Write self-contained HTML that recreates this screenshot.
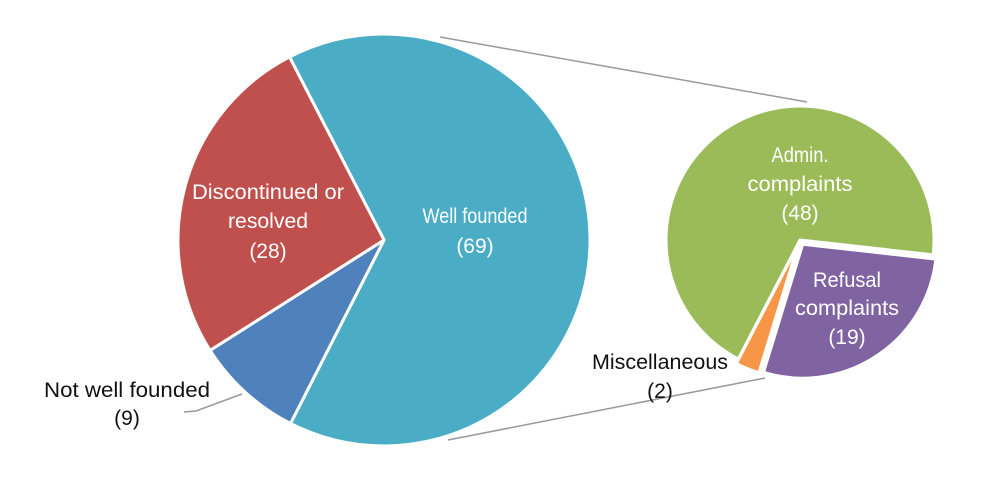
<!DOCTYPE html>
<html><head><meta charset="utf-8"><style>
html,body{margin:0;padding:0;background:#fff;}
svg{display:block;}
text{font-family:"Liberation Sans",sans-serif;font-size:21px;text-anchor:middle;}
.w{fill:#fff;}
.k{fill:#111;}
</style></head><body>
<svg width="1000" height="499" viewBox="0 0 1000 499">
<line x1="440" y1="37" x2="807" y2="102" stroke="#999" stroke-width="1.5"/>
<line x1="448" y1="440" x2="765" y2="378" stroke="#999" stroke-width="1.5"/>
<polyline points="184,412 196,411 242,394" fill="none" stroke="#999" stroke-width="1.5"/>
<g stroke="#fff" stroke-width="3" stroke-linejoin="round">
<path d="M384,240 L289.5,56.9 A206,206 0 1 1 290.5,423.5 Z" fill="#4BACC6"/>
<path d="M384,240 L290.5,423.5 A206,206 0 0 1 210.1,350.4 Z" fill="#4F81BD"/>
<path d="M384,240 L210.1,350.4 A206,206 0 0 1 289.5,56.9 Z" fill="#C0504D"/>
<path d="M800,240 L738.3,359 A134,134 0 1 1 933.2,254.9 Z" fill="#9BBB59"/>
<path d="M802.7,244.2 L935.9,259.1 A134,134 0 0 1 763.5,372.3 Z" fill="#8064A2"/>
<path d="M798.1,244.6 L758.9,372.7 A134,134 0 0 1 736.4,363.6 Z" fill="#F79646"/>
</g>
<text class="w" x="268" y="199" textLength="152" lengthAdjust="spacingAndGlyphs">Discontinued or</text>
<text class="w" x="268" y="228" textLength="80" lengthAdjust="spacingAndGlyphs">resolved</text>
<text class="w" x="268" y="258">(28)</text>
<text class="w" x="475" y="223" textLength="105" lengthAdjust="spacingAndGlyphs">Well founded</text>
<text class="w" x="475" y="253">(69)</text>
<text class="w" x="800" y="162" textLength="57" lengthAdjust="spacingAndGlyphs">Admin.</text>
<text class="w" x="800" y="191" textLength="105" lengthAdjust="spacingAndGlyphs">complaints</text>
<text class="w" x="800" y="220">(48)</text>
<text class="w" x="847" y="287" textLength="68" lengthAdjust="spacingAndGlyphs">Refusal</text>
<text class="w" x="847" y="315" textLength="104" lengthAdjust="spacingAndGlyphs">complaints</text>
<text class="w" x="847" y="344">(19)</text>
<text class="k" x="660" y="369" textLength="136" lengthAdjust="spacingAndGlyphs">Miscellaneous</text>
<text class="k" x="660" y="398">(2)</text>
<text class="k" x="127" y="397" textLength="166" lengthAdjust="spacingAndGlyphs">Not well founded</text>
<text class="k" x="127" y="425">(9)</text>
</svg>
</body></html>
